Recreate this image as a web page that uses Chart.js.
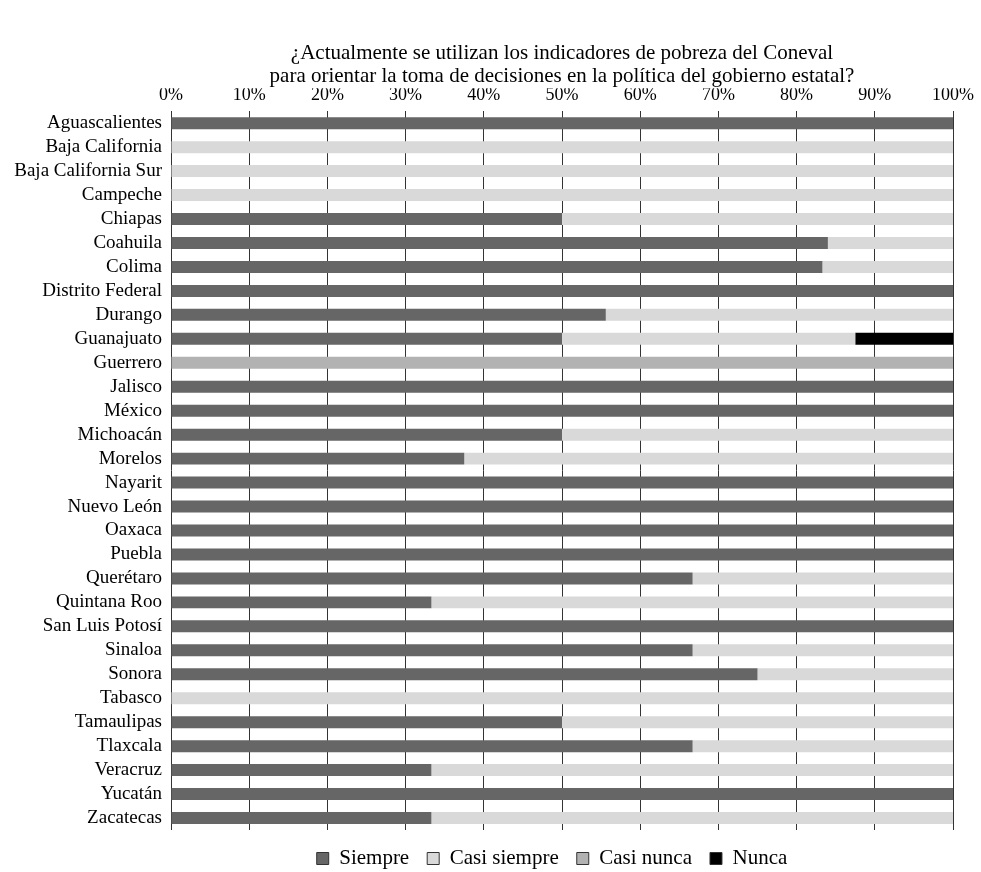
<!DOCTYPE html>
<html>
<head>
<meta charset="utf-8">
<script src="https://cdn.jsdelivr.net/npm/chart.js@4.4.1/dist/chart.umd.min.js"></script>
<style>
  html, body { margin: 0; padding: 0; background: #fff; }
  #wrap { width: 981px; height: 872px; position: relative; }
</style>
</head>
<body>
<div id="wrap"><canvas id="c" width="981" height="872"></canvas></div>
<script>
const states = ["Aguascalientes","Baja California","Baja California Sur","Campeche","Chiapas","Coahuila","Colima","Distrito Federal","Durango","Guanajuato","Guerrero","Jalisco","México","Michoacán","Morelos","Nayarit","Nuevo León","Oaxaca","Puebla","Querétaro","Quintana Roo","San Luis Potosí","Sinaloa","Sonora","Tabasco","Tamaulipas","Tlaxcala","Veracruz","Yucatán","Zacatecas"];
const siempre     = [100,0,0,0,50,84,83.3,100,55.6,50,0,100,100,50,37.5,100,100,100,100,66.7,33.3,100,66.7,75,0,50,66.7,33.3,100,33.3];
const casiSiempre = [0,100,100,100,50,16,16.7,0,44.4,37.5,0,0,0,50,62.5,0,0,0,0,33.3,66.7,0,33.3,25,100,50,33.3,66.7,0,66.7];
const casiNunca   = [0,0,0,0,0,0,0,0,0,0,100,0,0,0,0,0,0,0,0,0,0,0,0,0,0,0,0,0,0,0];
const nunca       = [0,0,0,0,0,0,0,0,0,12.5,0,0,0,0,0,0,0,0,0,0,0,0,0,0,0,0,0,0,0,0];
const seriesNames = ["Siempre","Casi siempre","Casi nunca","Nunca"];
const xTicks = [0,10,20,30,40,50,60,70,80,90,100];
const titleLines = ["¿Actualmente se utilizan los indicadores de pobreza del Coneval","para orientar la toma de decisiones en la política del gobierno estatal?"];

const colors = ["#666666","#d9d9d9","#b2b2b2","#000000"];
const FONT = "'Liberation Serif', 'DejaVu Serif', serif";

const data = {
  labels: states,
  datasets: [siempre, casiSiempre, casiNunca, nunca].map((d, i) => ({
    label: seriesNames[i],
    data: d,
    backgroundColor: colors[i],
    borderWidth: 0,
    barPercentage: 1.0,
    categoryPercentage: 0.5
  }))
};

// center title over the plot area and place legend as in the reference
const centerBlocks = {
  id: 'centerBlocks',
  afterLayout(chart) {
    const ca = chart.chartArea;
    const t = chart.titleBlock;
    if (t) { t.left = ca.left; t.right = ca.right; t.width = ca.right - ca.left; }
    const l = chart.legend;
    if (l) {
      l.left = ca.left - 20; l.right = ca.right; l.width = l.right - l.left;
      if (l.adjustHitBoxes) l.adjustHitBoxes();
    }
  }
};

new Chart(document.getElementById('c'), {
  type: 'bar',
  data,
  plugins: [centerBlocks],
  options: {
    indexAxis: 'y',
    responsive: false,
    animation: false,
    devicePixelRatio: 1,
    layout: { padding: { left: 0, right: 28, top: 42, bottom: -7 } },
    plugins: {
      title: {
        display: true,
        text: titleLines,
        color: '#000',
        font: { family: FONT, size: 21, weight: 'normal', lineHeight: 1.1 },
        padding: { top: 0, bottom: 0 }
      },
      legend: {
        position: 'bottom',
        labels: {
          color: '#000',
          font: { family: FONT, size: 21 },
          boxWidth: 12,
          boxHeight: 12,
          padding: 18,
          generateLabels: (chart) => chart.data.datasets.map((ds, i) => ({
            text: ds.label,
            fillStyle: ds.backgroundColor,
            strokeStyle: '#333',
            lineWidth: 1,
            hidden: false,
            datasetIndex: i,
            fontColor: '#000'
          }))
        }
      },
      tooltip: { enabled: false }
    },
    scales: {
      x: {
        position: 'top',
        stacked: true,
        min: 0,
        max: 100,
        afterBuildTicks: (s) => { s.ticks = xTicks.map(v => ({ value: v })); },
        afterFit: (s) => { s.height = 23; },
        ticks: {
          callback: (v) => v + '%',
          color: '#000',
          font: { family: FONT, size: 18 },
          padding: 5,
          maxRotation: 0
        },
        grid: { color: '#333', lineWidth: 1, drawTicks: false },
        border: { display: false }
      },
      y: {
        stacked: true,
        afterFit: (s) => { s.width = 171; },
        ticks: {
          color: '#000',
          font: { family: FONT, size: 19 },
          padding: 9,
          autoSkip: false
        },
        grid: { display: false, drawTicks: false },
        border: { display: false }
      }
    }
  }
});
</script>
</body>
</html>
